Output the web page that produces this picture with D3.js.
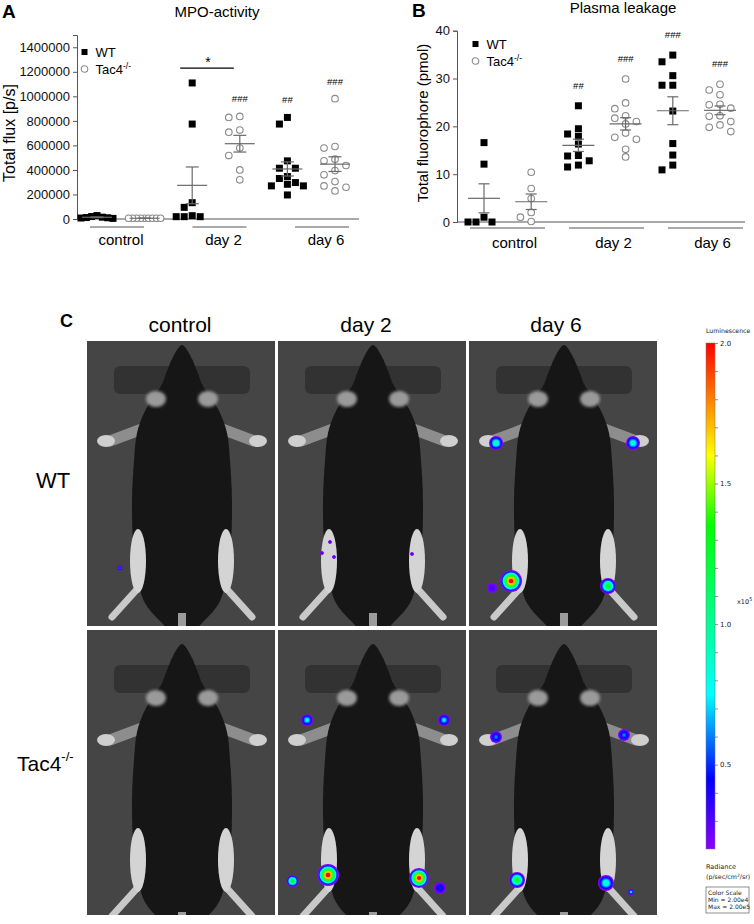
<!DOCTYPE html>
<html>
<head>
<meta charset="utf-8">
<script src="https://cdn.jsdelivr.net/npm/d3@7"></script>
<style>
  body { margin: 0; background: #fff; }
  svg { display: block; }
</style>
</head>
<body>
<svg id="fig" width="754" height="924"></svg>
<script>
// ---- data ----
const groups = ["control", "day 2", "day 6"];

// A: MPO-activity, total flux [p/s]; columns = control WT, control Tac4, day2 WT, day2 Tac4, day6 WT, day6 Tac4
const mpoControlWT = [28000, 20000, 15000, 12000, 10000, 8000, 5000];
const mpoControlTac4 = [6000, 6000, 6000, 6000, 6000, 6000, 6000, 6000, 6000];
const mpoDay2WT = [1109000, 774000, 133000, 95000, 27000, 19000, 19000, 19000];
const mpoDay2Tac4 = [836000, 828000, 725000, 708000, 578000, 517000, 400000, 319000];
const mpoDay6WT = [828000, 774000, 474000, 414000, 414000, 346000, 330000, 297000, 283000, 270000, 270000, 196000];
const mpoDay6Tac4 = [981000, 591000, 578000, 488000, 474000, 436000, 395000, 360000, 305000, 270000, 259000, 229000];
const mpoTicks = [0, 200000, 400000, 600000, 800000, 1000000, 1200000, 1400000];
const mpoMarks = ["", "", "", "###", "##", "###"];

// B: plasma leakage, total fluorophore (pmol)
const leakControlWT = [16.6, 12.1, 1.0, 0, 0, 0];
const leakControlTac4 = [10.4, 7.0, 4.9, 2.0, 1.0, 0.1];
const leakDay2WT = [24.3, 19.5, 18.4, 17.9, 16.3, 13.9, 13.8, 12.8, 11.9, 11.5];
const leakDay2Tac4 = [29.9, 24.9, 23.7, 22.2, 21.7, 21.0, 20.5, 18.6, 17.7, 17.3, 15.2, 13.6];
const leakDay6WT = [34.9, 33.5, 30.6, 28.6, 28.6, 23.2, 16.4, 14.0, 11.9, 10.9];
const leakDay6Tac4 = [28.8, 27.6, 26.6, 24.6, 24.5, 23.8, 22.2, 22.1, 21.0, 20.3, 19.8, 18.9];
const leakTicks = [0, 10, 20, 30, 40];
const leakMarks = ["", "", "##", "###", "###", "###"];

// C: luminescence colour scale (x10^5 p/sec/cm2/sr)
const lumStops = [0.2, 0.45, 0.75, 1.35, 1.6, 1.8, 2.0];
const lumColors = ["#8a00ff", "#0000ff", "#00ffff", "#00ff00", "#ffff00", "#ff8000", "#ff0000"];
const lumTicks = [0.3, 0.4, 0.5, 0.6, 0.7, 0.8, 0.9, 1.0, 1.1, 1.2, 1.3, 1.4, 1.5, 1.6, 1.7, 1.8, 1.9, 2.0];
const rowLabels = ["WT", "Tac4"];
// peak radiance of the hot spots seen on the paws
const spotPeaks = [0.6, 0.3, 0.3, 0.3, 0.3, 0.95, 0.9, 2.0, 0.35, 1.3, 0.8, 0.75, 2.0, 1.3, 2.0, 0.5, 0.6, 0.6, 1.3, 0.9, 0.8];

// ---- setup ----
const svg = d3.select("#fig")
  .attr("font-family", "'Liberation Sans', Arial, sans-serif");
const axisCol = "#555";
const barCol = "#6a6a6a";

function swarmOffsets(values, y, step, size, maxHalf) {
  const order = d3.range(values.length).sort((a, b) => values[b] - values[a]);
  const offs = new Array(values.length);
  const placed = [];
  const h = step / 2;
  for (const i of order) {
    const py = y(values[i]);
    let off = 0;
    for (let k = 0; k < 80; k++) {
      const c = k === 0 ? 0 : (k % 2 === 1 ? -1 : 1) * Math.ceil(k / 2) * h;
      if (placed.every(p => Math.abs(p.x - c) >= step || Math.abs(p.y - py) >= size)) { off = c; break; }
    }
    placed.push({x: off, y: py});
    offs[i] = off;
  }
  const m = d3.max(offs, Math.abs);
  return m > maxHalf ? offs.map(o => o * maxHalf / m) : offs;
}

function scatterPanel(c) {
  const g = svg.append("g");
  const y = d3.scaleLinear().domain(c.yDomain).range([c.yBottom, c.yTop]);
  const x = d3.scaleLinear().domain([0, 5]).range([c.xFirst, c.xLast]);
  const gx = d3.scaleLinear().domain([0, 2]).range([c.gFirst, c.gLast]);

  // axes
  const ya = g.append("g")
    .attr("transform", `translate(${c.axisX},0)`)
    .call(d3.axisLeft(y).tickValues(c.ticks).tickSize(4).tickPadding(3).tickFormat(d3.format("d")));
  ya.select(".domain").attr("stroke", axisCol);
  ya.selectAll(".tick line").attr("stroke", axisCol);
  ya.selectAll("text").attr("font-size", 13).attr("fill", "#111")
    .attr("font-family", "'Liberation Sans', Arial, sans-serif");
  g.append("line").attr("x1", c.axisX).attr("x2", c.xEnd)
    .attr("y1", y(0)).attr("y2", y(0)).attr("stroke", axisCol);

  g.append("text").attr("transform", `translate(${c.yTitleX},${c.yTitleY}) rotate(-90)`)
    .attr("text-anchor", "middle").attr("font-size", c.yTitleSize).text(c.yTitle);
  g.append("text").attr("x", c.titleX).attr("y", c.titleY).attr("text-anchor", "middle")
    .attr("font-size", 15).text(c.title);
  g.append("text").attr("x", c.letterX).attr("y", c.letterY).attr("font-size", 19)
    .attr("font-weight", "bold").text(c.letter);

  // group underlines and labels
  groups.forEach((name, i) => {
    g.append("line").attr("x1", gx(i) - c.gHalf).attr("x2", gx(i) + c.gHalf)
      .attr("y1", c.gLineY).attr("y2", c.gLineY).attr("stroke", axisCol);
    g.append("text").attr("x", gx(i) + c.labelShift).attr("y", c.gLabelY)
      .attr("text-anchor", "middle").attr("font-size", 15).text(name);
  });

  // points
  c.series.forEach((vals, i) => {
    const offs = swarmOffsets(vals, y, c.step, 7.5, 16);
    const cx = x(i);
    const wt = i % 2 === 0;
    const pg = g.append("g");
    if (wt) {
      pg.selectAll("rect").data(vals).join("rect")
        .attr("x", (d, j) => cx + offs[j] - 3.5).attr("y", d => y(d) - 3.5)
        .attr("width", 7).attr("height", 7).attr("fill", "#000");
    } else {
      pg.selectAll("circle").data(vals).join("circle")
        .attr("cx", (d, j) => cx + offs[j]).attr("cy", d => y(d)).attr("r", 3.3)
        .attr("fill", "#fff").attr("stroke", "#8a8a8a").attr("stroke-width", 1.1);
    }
    // mean +- SEM
    const m = d3.mean(vals), s = d3.deviation(vals) / Math.sqrt(vals.length);
    const eg = g.append("g").attr("stroke", barCol).attr("stroke-width", 1.2);
    eg.append("line").attr("x1", cx - c.meanHalf).attr("x2", cx + c.meanHalf).attr("y1", y(m)).attr("y2", y(m));
    eg.append("line").attr("x1", cx).attr("x2", cx).attr("y1", y(m - s)).attr("y2", y(m + s));
    [m - s, m + s].forEach(v => eg.append("line").attr("x1", cx - c.capHalf).attr("x2", cx + c.capHalf)
      .attr("y1", y(v)).attr("y2", y(v)));
    // significance marks
    if (c.marks[i]) {
      g.append("text").attr("x", cx).attr("y", y(d3.max(vals)) - c.markGap)
        .attr("text-anchor", "middle").attr("font-size", 9.5).text(c.marks[i]);
    }
  });

  // legend
  const lg = g.append("g").attr("transform", `translate(${c.legX},${c.legY})`);
  lg.append("rect").attr("x", -3).attr("y", -3).attr("width", 6).attr("height", 6).attr("fill", "#000");
  lg.append("text").attr("x", 11).attr("y", 4.5).attr("font-size", 13).text("WT");
  lg.append("circle").attr("cx", 0).attr("cy", 17).attr("r", 3.3)
    .attr("fill", "#fff").attr("stroke", "#8a8a8a").attr("stroke-width", 1.1);
  const t = lg.append("text").attr("x", 11).attr("y", 21.5).attr("font-size", 13).text("Tac4");
  t.append("tspan").attr("dy", -5).attr("font-size", 8.5).text("-/-");
  return {g, x, y};
}

// ---- panel A ----
const A = scatterPanel({
  letter: "A", letterX: 2, letterY: 18, title: "MPO-activity", titleX: 217, titleY: 17,
  yDomain: [0, 1500000], yBottom: 219, yTop: 35, ticks: mpoTicks,
  axisX: 77, xEnd: 359, xFirst: 97, xLast: 335,
  gFirst: 117, gLast: 322, gHalf: 27, gLineY: 227, gLabelY: 245, labelShift: 4,
  yTitle: "Total flux [p/s]", yTitleX: 15, yTitleY: 133, yTitleSize: 16,
  series: [mpoControlWT, mpoControlTac4, mpoDay2WT, mpoDay2Tac4, mpoDay6WT, mpoDay6Tac4],
  marks: mpoMarks, markGap: 14, step: 11, meanHalf: 15, capHalf: 6.5,
  legX: 84.5, legY: 52
});
// day 2 WT vs Tac4 comparison
A.g.append("line").attr("x1", A.x(2) - 12).attr("x2", A.x(3) - 6)
  .attr("y1", A.y(1230000)).attr("y2", A.y(1230000)).attr("stroke", "#000").attr("stroke-width", 1.2);
A.g.append("text").attr("x", (A.x(2) + A.x(3)) / 2 - 8).attr("y", A.y(1230000) - 1)
  .attr("text-anchor", "middle").attr("font-size", 14).text("*");

// ---- panel B ----
scatterPanel({
  letter: "B", letterX: 412, letterY: 17, title: "Plasma leakage", titleX: 623, titleY: 13,
  yDomain: [0, 40], yBottom: 222, yTop: 30.7, ticks: leakTicks,
  axisX: 457, xEnd: 745, xFirst: 484, xLast: 720,
  gFirst: 507.5, gLast: 705.5, gHalf: 37.5, gLineY: 228, gLabelY: 248, labelShift: 7,
  yTitle: "Total fluorophore (pmol)", yTitleX: 428, yTitleY: 123, yTitleSize: 15,
  series: [leakControlWT, leakControlTac4, leakDay2WT, leakDay2Tac4, leakDay6WT, leakDay6Tac4],
  marks: leakMarks, markGap: 17, step: 10.8, meanHalf: 16, capHalf: 5.5,
  legX: 475.5, legY: 44
});

// ---- panel C ----
const lum = d3.scaleLinear().domain(lumStops).range(lumColors).clamp(true);
const photoX = [87, 278, 469], photoY = [341, 630], photoW = 188, photoH = 285;

svg.append("text").attr("x", 60).attr("y", 327).attr("font-size", 18).attr("font-weight", "bold").text("C");
const colCenters = [180, 366, 556];
groups.forEach((name, i) => svg.append("text").attr("x", colCenters[i]).attr("y", 332)
  .attr("text-anchor", "middle").attr("font-size", 21).text(name));
svg.append("text").attr("x", 53).attr("y", 488).attr("text-anchor", "middle").attr("font-size", 22).text(rowLabels[0]);
const tl = svg.append("text").attr("x", 17).attr("y", 771).attr("font-size", 21).text(rowLabels[1]);
tl.append("tspan").attr("dy", -10).attr("font-size", 13).text("-/-");

const defs = svg.append("defs");
defs.append("filter").attr("id", "soft").append("feGaussianBlur").attr("stdDeviation", 1.6);
defs.append("filter").attr("id", "soft2").append("feGaussianBlur").attr("stdDeviation", 0.6);

const bodyLine = d3.line().curve(d3.curveCatmullRomClosed);
const half = [[0, 4], [-8, 14], [-15, 30], [-21, 45], [-30, 58], [-38, 72], [-45, 92], [-48, 120],
  [-50, 160], [-49, 200], [-45, 235], [-37, 262], [-22, 280], [-8, 292]];
const outline = half.concat(half.slice(1).reverse().map(([dx, dy]) => [-dx, dy]));

function mouse(g, dy) {
  const cx = 95;
  const m = g.append("g").attr("transform", `translate(0,${dy})`);
  // cage ear plates
  m.append("rect").attr("x", 27).attr("y", 25).attr("width", 136).attr("height", 28).attr("rx", 6)
    .attr("fill", "#333").attr("filter", "url(#soft2)");
  // limbs
  [-1, 1].forEach(sd => {
    m.append("line").attr("x1", cx + sd * 40).attr("y1", 88).attr("x2", cx + sd * 72).attr("y2", 100)
      .attr("stroke", "#8d8d8d").attr("stroke-width", 11).attr("stroke-linecap", "round");
    m.append("ellipse").attr("cx", cx + sd * 76).attr("cy", 100).attr("rx", 9).attr("ry", 6).attr("fill", "#cfcfcf");
    m.append("line").attr("x1", cx + sd * 42).attr("y1", 245).attr("x2", cx + sd * 70).attr("y2", 276)
      .attr("stroke", "#c9c9c9").attr("stroke-width", 7).attr("stroke-linecap", "round");
  });
  m.append("path").attr("d", bodyLine(outline.map(([dx, y]) => [cx + dx, y])))
    .attr("fill", "#161616").attr("filter", "url(#soft2)");
  [-1, 1].forEach(sd => {
    m.append("ellipse").attr("cx", cx + sd * 26).attr("cy", 58).attr("rx", 10).attr("ry", 8)
      .attr("fill", "#9a9a9a").attr("filter", "url(#soft)");
    m.append("ellipse").attr("cx", cx + sd * 44).attr("cy", 220).attr("rx", 8).attr("ry", 32)
      .attr("fill", "#d4d4d4").attr("filter", "url(#soft2)");
  });
  m.append("rect").attr("x", cx - 4).attr("y", 272).attr("width", 8).attr("height", 30).attr("fill", "#9b9b9b");
}

// hot spot layout inside each photo (row, col, x, y, radius)
const spotLayout = [
  [0, 0, 33, 227, 2.5],
  [0, 1, 52, 201, 1.8], [0, 1, 44, 212, 1.8], [0, 1, 56, 216, 1.8], [0, 1, 134, 213, 1.8],
  [0, 2, 27, 102, 7], [0, 2, 164, 102, 7], [0, 2, 42, 240, 11], [0, 2, 23, 247, 5], [0, 2, 139, 245, 8],
  [1, 1, 29, 90, 6], [1, 1, 166, 90, 6], [1, 1, 50, 245, 11], [1, 1, 14.5, 251, 6], [1, 1, 141, 248, 10], [1, 1, 162, 258, 6],
  [1, 2, 27, 107, 6], [1, 2, 155, 105, 6], [1, 2, 48, 250, 8], [1, 2, 137, 253, 8], [1, 2, 162, 262, 3]
];

photoY.forEach((py, r) => photoX.forEach((px, c) => {
  const id = `clip${r}${c}`;
  defs.append("clipPath").attr("id", id).append("rect").attr("width", photoW).attr("height", photoH);
  const g = svg.append("g").attr("transform", `translate(${px},${py})`).attr("clip-path", `url(#${id})`);
  g.append("rect").attr("width", photoW).attr("height", photoH).attr("fill", "#454545");
  mouse(g, r === 0 ? 0 : 10);
  spotLayout.forEach(([sr, sc, sx, sy, rad], k) => {
    if (sr !== r || sc !== c) return;
    const peak = spotPeaks[k];
    const n = 7;
    d3.range(n).forEach(i => {
      const L = 0.2 + (peak - 0.2) * i / (n - 1);
      g.append("circle").attr("cx", sx).attr("cy", sy)
        .attr("r", Math.max(0.8, rad * Math.pow(1 - i / n, 0.8)))
        .attr("fill", lum(L));
    });
  });
}));

// colour bar
const cy = d3.scaleLinear().domain([0.2, 2.0]).range([849, 343]);
const grad = defs.append("linearGradient").attr("id", "lumgrad")
  .attr("x1", 0).attr("y1", 1).attr("x2", 0).attr("y2", 0);
lumStops.forEach((v, i) => grad.append("stop")
  .attr("offset", (v - 0.2) / 1.8).attr("stop-color", lumColors[i]));
svg.append("rect").attr("x", 706).attr("y", cy(2.0)).attr("width", 9).attr("height", cy(0.2) - cy(2.0))
  .attr("fill", "url(#lumgrad)").attr("stroke", "#777").attr("stroke-width", 0.5);
const ca = svg.append("g").attr("transform", "translate(715,0)")
  .call(d3.axisRight(cy).tickValues(lumTicks).tickSize(3).tickPadding(2)
    .tickFormat(d => Math.abs(d * 2 - Math.round(d * 2)) < 1e-6 ? d3.format(".1f")(d) : ""));
ca.select(".domain").remove();
ca.selectAll(".tick line").attr("stroke", "#444").attr("stroke-width", 0.6);
ca.selectAll("text").attr("font-size", 7).attr("fill", "#222").attr("font-family", "'DejaVu Sans', Verdana, sans-serif");

const small = svg.append("g").attr("font-family", "'DejaVu Sans', Verdana, sans-serif").attr("fill", "#222");
small.append("text").attr("x", 706).attr("y", 333).attr("font-size", 6.2).text("Luminescence");
const xt = small.append("text").attr("x", 737).attr("y", 604).attr("font-size", 6.5).text("x10");
xt.append("tspan").attr("dy", -3).attr("font-size", 5).text("5");
small.append("text").attr("x", 706).attr("y", 869).attr("font-size", 6.5).text("Radiance");
const ru = small.append("text").attr("x", 706).attr("y", 879).attr("font-size", 6.3).text("(p/sec/cm");
ru.append("tspan").attr("dy", -2).attr("font-size", 4.5).text("2");
ru.append("tspan").attr("dy", 2).text("/sr)");
svg.append("rect").attr("x", 706).attr("y", 887).attr("width", 43).attr("height", 26)
  .attr("fill", "none").attr("stroke", "#444").attr("stroke-width", 0.6);
["Color Scale", "Min = 2.00e4", "Max = 2.00e5"].forEach((s, i) =>
  small.append("text").attr("x", 708).attr("y", 895 + i * 7).attr("font-size", 6).text(s));
</script>
</body>
</html>
